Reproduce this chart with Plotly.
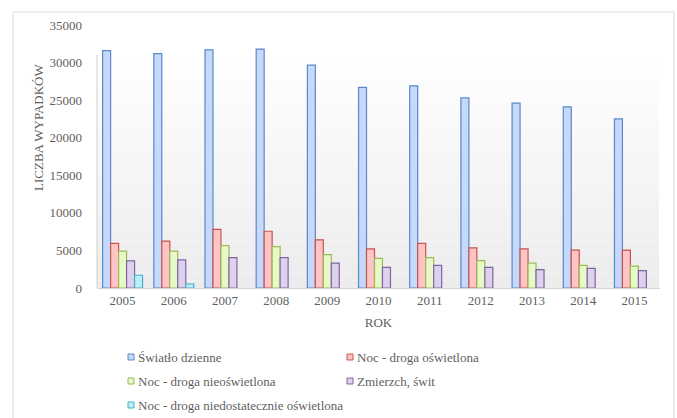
import plotly.graph_objects as go

# Road accidents by lighting conditions, 2005-2015
years = ["2005", "2006", "2007", "2008", "2009", "2010",
         "2011", "2012", "2013", "2014", "2015"]

swiatlo_dzienne = [31600, 31200, 31700, 31800, 29650, 26700,
                   26900, 25300, 24600, 24100, 22500]
noc_oswietlona = [5950, 6250, 7800, 7550, 6400, 5200,
                  5950, 5350, 5200, 5050, 5050]
noc_nieoswietlona = [4900, 4900, 5650, 5500, 4450, 3950,
                     4050, 3650, 3300, 3000, 2900]
zmierzch_swit = [3600, 3750, 4050, 4050, 3300, 2750,
                 3000, 2750, 2450, 2600, 2300]
noc_niedostatecznie = [1700, 530, None, None, None, None,
                       None, None, None, None, None]

series = [
    ("Światło dzienne", swiatlo_dzienne, "#c6d9fb", "#5a88c8"),
    ("Noc - droga oświetlona", noc_oswietlona, "#ffc4c4", "#c65450"),
    ("Noc - droga nieoświetlona", noc_nieoswietlona, "#e8f8c8", "#9bbb59"),
    ("Zmierzch, świt", zmierzch_swit, "#dcd2ee", "#8064a2"),
    ("Noc - droga niedostatecznie oświetlona", noc_niedostatecznie, "#bdeef8", "#4bacc6"),
]

FONT = "Liberation Serif"
TEXT = "#5f5f5f"

# plot area in pixels
L, R, T, B = 97, 660, 25, 288
PW, PH = R - L, B - T


def px_x(x):
    return (x - L) / PW


def px_y(y):
    return (B - y) / PH


fig = go.Figure()

for name, vals, fill, edge in series:
    fig.add_trace(go.Bar(
        x=years, y=vals, name=name, showlegend=False,
        marker=dict(color=fill, line=dict(color=edge, width=1.2)),
    ))

shapes = []
annotations = []

# soft vertical gradient behind the bars
n_bands = 30
top_frac = px_y(55)
for i in range(n_bands):
    y0 = top_frac * i / n_bands
    y1 = top_frac * (i + 1) / n_bands
    t = i / (n_bands - 1)
    g = int(round(236 + (255 - 236) * t))
    shapes.append(dict(type="rect", xref="paper", yref="paper",
                       x0=0, x1=px_x(659), y0=y0, y1=y1,
                       fillcolor=f"rgb({g},{g},{g})", line=dict(width=0),
                       layer="below"))

# vertical axis line
shapes.append(dict(type="line", xref="paper", yref="paper",
                   x0=0, x1=0, y0=0, y1=top_frac,
                   line=dict(color="#d0d0d0", width=1)))
# outer chart frame
shapes.append(dict(type="rect", xref="paper", yref="paper",
                   x0=px_x(13), x1=px_x(674), y0=px_y(430), y1=px_y(12),
                   line=dict(color="#dadada", width=1),
                   fillcolor="rgba(0,0,0,0)", layer="below"))

# legend: two columns, three rows
legend_cols = [128, 347]
legend_rows = [357, 381, 405]
for k, (name, vals, fill, edge) in enumerate(series):
    cx = legend_cols[k % 2]
    cy = legend_rows[k // 2]
    shapes.append(dict(type="rect", xref="paper", yref="paper",
                       x0=px_x(cx), x1=px_x(cx + 6),
                       y0=px_y(cy + 3), y1=px_y(cy - 3),
                       fillcolor=fill, line=dict(color=edge, width=1)))
    annotations.append(dict(
        text=name, xref="paper", yref="paper",
        x=px_x(cx + 8), y=px_y(cy), xanchor="left", yanchor="middle",
        showarrow=False, font=dict(family=FONT, size=13, color=TEXT),
    ))

# y-axis title
annotations.append(dict(
    text="LICZBA WYPADKÓW", textangle=-90,
    xref="paper", yref="paper",
    x=px_x(38), y=px_y(128),
    xanchor="center", yanchor="middle", showarrow=False,
    font=dict(family=FONT, size=13, color=TEXT),
))

fig.update_layout(
    width=677, height=418,
    margin=dict(l=L, r=677 - R, t=T, b=418 - B),
    paper_bgcolor="white", plot_bgcolor="rgba(0,0,0,0)",
    barmode="group", bargap=0.22, bargroupgap=0,
    font=dict(family=FONT, size=13, color=TEXT),
    showlegend=False,
    shapes=shapes,
    annotations=annotations,
    xaxis=dict(
        type="category", showgrid=False, ticks="",
        showline=True, linecolor="#d4d4d4", linewidth=1,
        tickfont=dict(family=FONT, size=13, color=TEXT),
        title=dict(text="ROK", font=dict(family=FONT, size=13, color=TEXT),
                   standoff=11),
    ),
    yaxis=dict(
        range=[0, 35000], dtick=5000, tickformat="d",
        showgrid=False, zeroline=False,
        showline=False, ticks="", ticklabelstandoff=14,
        tickfont=dict(family=FONT, size=13, color=TEXT),
    ),
)

fig.write_html("out.html")
